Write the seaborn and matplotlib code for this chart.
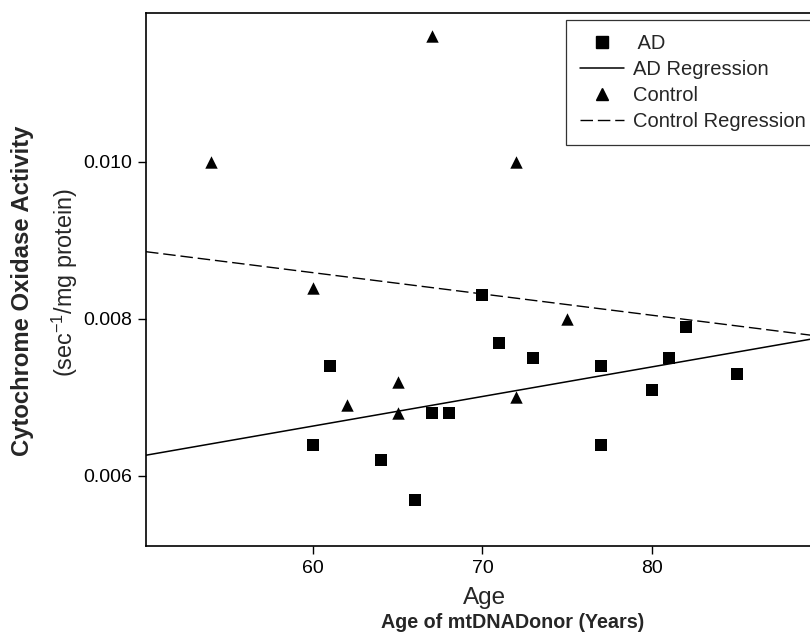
import matplotlib
matplotlib.use("Agg")
import matplotlib.pyplot as plt
from matplotlib.ticker import FormatStrFormatter
from matplotlib.lines import Line2D
import pandas as pd
import seaborn as sns

# AD donors (squares)
ad_age = [60, 61, 64, 66, 67, 68, 70, 71, 73, 77, 77, 80, 81, 82, 85]
ad_activity = [0.0064, 0.0074, 0.0062, 0.0057, 0.0068, 0.0068, 0.0083, 0.0077,
               0.0075, 0.0074, 0.0064, 0.0071, 0.0075, 0.0079, 0.0073]

# Control donors (triangles)
ctrl_age = [54, 60, 62, 65, 65, 67, 72, 75, 72]
ctrl_activity = [0.0100, 0.0084, 0.0069, 0.0072, 0.0068, 0.0116, 0.0100,
                 0.0080, 0.0070]

x_ticks = [60, 70, 80]
y_ticks = [0.006, 0.008, 0.010]

sns.set_style("ticks")
plt.rcParams["font.family"] = ["Liberation Sans", "DejaVu Sans"]
plt.rcParams["mathtext.fontset"] = "custom"
plt.rcParams["mathtext.rm"] = "Liberation Sans"

ad = pd.DataFrame({"age": ad_age, "activity": ad_activity})
ctrl = pd.DataFrame({"age": ctrl_age, "activity": ctrl_activity})

fig = plt.figure(figsize=(8.10, 6.41), dpi=100)
ax = fig.add_axes([146 / 810, 95 / 641, (830 - 146) / 810, (546 - 13) / 641])
ax.set_xlim(50.15, 90.5)
ax.set_ylim(0.005108, 0.011898)

# regression lines first so they span the full x range
sns.regplot(data=ad, x="age", y="activity", scatter=False, ci=None,
            truncate=False, ax=ax, line_kws=dict(color="black", lw=1.1))
sns.regplot(data=ctrl, x="age", y="activity", scatter=False, ci=None,
            truncate=False, ax=ax,
            line_kws=dict(color="black", lw=1.0, dashes=(9, 3.5)))

sns.scatterplot(data=ad, x="age", y="activity", marker="s", s=64,
                color="black", edgecolor="black", linewidth=0, ax=ax, zorder=3)
sns.scatterplot(data=ctrl, x="age", y="activity", marker="^", s=80,
                color="black", edgecolor="black", linewidth=0, ax=ax, zorder=3)

ax.set_xlim(50.15, 90.5)
ax.set_ylim(0.005108, 0.011898)
ax.set_xticks(x_ticks)
ax.set_yticks(y_ticks)
ax.yaxis.set_major_formatter(FormatStrFormatter("%.3f"))
ax.tick_params(direction="out", length=5.8, width=1.0, labelsize=14,
               color="black", labelcolor="black")
ax.tick_params(axis="x", pad=4.5)
ax.tick_params(axis="y", pad=4)
ax.set_xlabel("")
ax.set_ylabel("")
for side in ["top", "left", "bottom"]:
    ax.spines[side].set_visible(True)
    ax.spines[side].set_color("black")
    ax.spines[side].set_linewidth(1.2)
ax.spines["right"].set_visible(False)

handles = [
    Line2D([], [], ls="none", marker="s", color="black", markersize=8),
    Line2D([], [], color="black", lw=1.1),
    Line2D([], [], ls="none", marker="^", color="black", markersize=8.5),
    Line2D([], [], color="black", lw=1.0, dashes=(9, 3.5)),
]
labels = [" AD", "AD Regression", "Control", "Control Regression"]
leg = ax.legend(handles, labels, loc="upper left",
                bbox_to_anchor=(566 / 810, 1 - 20 / 641),
                bbox_transform=fig.transFigure, borderaxespad=0,
                fontsize=14.5, frameon=True, fancybox=False, framealpha=1,
                edgecolor="#333333", handlelength=2.2, handletextpad=0.45,
                labelspacing=0.34, borderpad=0.7)
leg.get_frame().set_linewidth(0.9)

fig.text(485 / 810, 1 - 598 / 641, "Age", ha="center", va="center",
         fontsize=17.5)
fig.text(513 / 810, 1 - 622 / 641, "Age of mtDNADonor (Years)", ha="center",
         va="center", fontsize=14.2, fontweight="bold")
fig.text(23 / 810, 1 - 291 / 641, "Cytochrome Oxidase Activity", rotation=90,
         ha="center", va="center", fontsize=17.2, fontweight="bold")
fig.text(65 / 810, 1 - 283 / 641, r"(sec$^{\mathregular{-1}}$/mg protein)",
         rotation=90, ha="center", va="center", fontsize=16.8)

fig.savefig("out.png", dpi=100)
